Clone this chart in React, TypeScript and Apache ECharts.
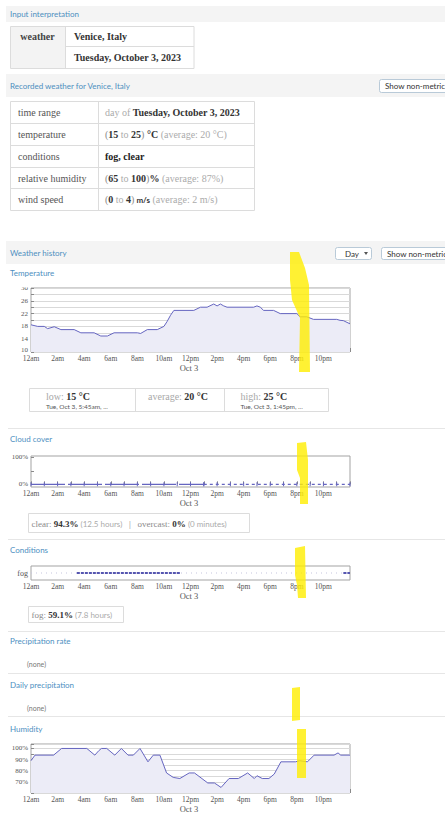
import React, { useEffect, useRef } from 'react';
import * as echarts from 'echarts';

const SERIF = '"Liberation Serif", "Times New Roman", serif';
const SANS = 'Lato, "Open Sans", sans-serif';
const LINE = '#6565c0';
const AREA = '#ececf7';
const HEAD = '#4d8fbf';

// ---------- data ----------
const hourTicks = [0, 2, 4, 6, 8, 10, 12, 14, 16, 18, 20, 22];
const hourLabels = ['12am', '2am', '4am', '6am', '8am', '10am', '12pm', '2pm', '4pm', '6pm', '8pm', '10pm'];

const tempHours = [0, 0.5, 1, 1.25, 1.75, 2.25, 3.25, 3.75, 4.75, 5.25, 5.75, 6.25, 8, 8.25, 8.75, 9.5, 10, 10.25, 10.5, 10.75, 12.25, 12.75, 13.25, 13.75, 14, 14.25, 14.5, 14.75, 16.75, 17, 17.25, 17.5, 18.25, 18.75, 20, 20.25, 20.75, 21.25, 23, 23.25, 23.5, 24];
const tempValues = [18.5, 18, 18, 17.3, 17.9, 17, 17, 16, 16, 15, 15, 16, 16, 15.8, 17, 17, 18, 19.6, 21.5, 23, 23, 24, 24, 25, 24.4, 25, 24.4, 24, 24, 24.4, 24, 23, 23, 22, 22, 21, 21, 20.2, 20.2, 19.9, 19.8, 18.8];
const tempTickLabels = [10, 14, 18, 22, 26, 30];

const cloudHours = [0, 1, 2, 3, 4, 5, 6, 7, 8, 9, 10, 11, 12, 13, 14, 15, 16, 17, 18, 19, 20, 21, 22, 23, 24];
const cloudValues = [0, 0, 0, 0, 0, 0, 0, 0, 0, 0, 0, 0, 0, 0, 0, 0, 0, 0, 0, 0, 0, 0, 0, 0, 0];
const cloudObservedUntil = 13;
const cloudTickLabels = [0, 100];

const conditionCategories = ['fog'];
const fogIntervals = [[3.45, 11.2], [23.5, 24]];

const humHours = [0, 0.3, 1.7, 2.3, 4.2, 4.8, 5.1, 5.3, 5.7, 6.3, 6.8, 7.3, 7.7, 8.2, 8.8, 9.2, 9.7, 10.2, 10.7, 11.2, 11.9, 12.3, 13.3, 13.8, 14.3, 14.9, 15.6, 16.3, 16.8, 17.0, 17.4, 17.9, 18.3, 18.8, 19.9, 20.2, 20.8, 21.3, 22.8, 23.1, 23.3, 24];
const humValues = [89, 94, 94, 100, 100, 94, 98, 100, 100, 94, 100, 94, 94, 100, 88, 94, 94, 78, 74, 73, 78, 78, 69, 69, 65, 73, 73, 78, 73, 75.5, 73, 73, 77, 88, 88, 89, 88, 94, 94, 96, 94, 94];
const humTickLabels = [70, 80, 90, 100];

// ---------- helpers ----------
const hourLabel = (v: number) => {
  const i = hourTicks.indexOf(v);
  return i >= 0 ? hourLabels[i] : '';
};

const xAxisFor = (gridIndex: number, tickLen: number) => ({
  type: 'value',
  gridIndex,
  min: 0,
  max: 24,
  interval: 1,
  axisLine: { show: false },
  axisTick: { show: tickLen > 0, inside: true, length: tickLen, lineStyle: { color: '#8a8a8a', width: 1 } },
  axisLabel: { margin: 2, fontFamily: SERIF, fontSize: 7.5, color: '#555', formatter: hourLabel },
  splitLine: { show: false },
});

const gridBox = (top: number, height: number) => ({
  left: 31,
  top,
  width: 319,
  height,
  show: true,
  borderColor: '#a3a3a3',
  borderWidth: 1,
  backgroundColor: 'transparent',
});

const yLabel = { fontFamily: SERIF, fontSize: 7, color: '#555', margin: 3 };

function buildGraphics() {
  const g: any[] = [];
  const rect = (x: number, y: number, w: number, h: number, fill: string, stroke?: string, r = 0, z = 0) =>
    g.push({ type: 'rect', z, shape: { x, y, width: w, height: h, r }, style: { fill, stroke: stroke || null, lineWidth: stroke ? 1 : 0 } });
  const line = (x1: number, y1: number, x2: number, y2: number, color = '#dedede', z = 1) =>
    g.push({ type: 'line', z, shape: { x1, y1, x2, y2 }, style: { stroke: color, lineWidth: 1 } });
  const text = (x: number, y: number, t: string, font: string, fill: string, align = 'left', rich?: any, z = 5) =>
    g.push({
      type: 'text', z, x, y,
      style: { text: t, font, fill, textAlign: align, align, textVerticalAlign: 'middle', verticalAlign: 'middle', rich },
    });
  const rs = (family: string, size: number, fill: string, weight = 'normal') => ({
    fontFamily: family, fontSize: size, fontWeight: weight, fill, color: fill,
  });

  // header bars
  rect(6, 6, 439, 16, '#f4f4f4');
  rect(6, 74, 439, 23, '#f4f4f4');
  rect(6, 241, 439, 23, '#f4f4f4');
  text(10, 13.5, 'Input interpretation', `8px ${SANS}`, HEAD);
  text(10, 86, 'Recorded weather for Venice, Italy', `8px ${SANS}`, HEAD);
  text(10, 253, 'Weather history', `8px ${SANS}`, HEAD);

  // buttons
  rect(379.5, 79.5, 80, 13, '#ffffff', '#b9cad8', 2, 2);
  text(385, 86, 'Show non-metric', `8px ${SANS}`, '#333');
  rect(335.5, 247.5, 36, 12, '#ffffff', '#b9cad8', 2, 2);
  text(345, 253.5, 'Day', `8px ${SANS}`, '#333');
  g.push({ type: 'polygon', z: 5, shape: { points: [[364, 252], [368, 252], [366, 255]] }, style: { fill: '#555' } });
  rect(381.5, 247.5, 80, 12, '#ffffff', '#b9cad8', 2, 2);
  text(387, 253.5, 'Show non-metric', `8px ${SANS}`, '#333');

  // table 1
  rect(10.5, 26.5, 183.5, 42, '#ffffff', '#dcdcdc', 0, 1);
  rect(11, 27, 54.5, 41, '#f3f3f3', undefined, 0, 1);
  line(65.5, 26.5, 65.5, 68.5, '#dcdcdc', 2);
  line(65.5, 46.5, 194, 46.5, '#dcdcdc', 2);
  text(37.5, 36.5, 'weather', `bold 10px ${SERIF}`, '#444', 'center');
  text(74, 36.5, 'Venice, Italy', `bold 10px ${SERIF}`, '#333');
  text(74, 57.5, 'Tuesday, October 3, 2023', `bold 10px ${SERIF}`, '#333');

  // table 2
  rect(10.5, 101.5, 244, 109, '#ffffff', '#dcdcdc', 0, 1);
  line(98.5, 101.5, 98.5, 210.5, '#dcdcdc', 2);
  [123.5, 145.5, 167.5, 188.5].forEach((y) => line(10.5, y, 254.5, y, '#dcdcdc', 2));
  const rowY = [112.5, 134.5, 156.5, 178, 199.5];
  const leftCol = ['time range', 'temperature', 'conditions', 'relative humidity', 'wind speed'];
  leftCol.forEach((t, i) => text(18, rowY[i], t, `10px ${SERIF}`, '#555'));
  const tr = {
    g: rs(SERIF, 10, '#ababab'),
    p: rs(SERIF, 10, '#8a8a8a'),
    b: rs(SERIF, 10, '#333', 'bold'),
    d: rs(SERIF, 10, '#222', 'bold'),
    s: rs(SANS, 8, '#333', 'bold'),
  };
  text(105, rowY[0], '{g|day of }{b|Tuesday, October 3, 2023}', `10px ${SERIF}`, '#333', 'left', tr);
  text(105, rowY[1], '{p|(}{b|15}{g| to }{b|25}{p|)}{b| °C}{g| (average: 20 °C)}', `10px ${SERIF}`, '#333', 'left', tr);
  text(105, rowY[2], '{d|fog, clear}', `10px ${SERIF}`, '#333', 'left', tr);
  text(105, rowY[3], '{p|(}{b|65}{g| to }{b|100}{p|)}{b|%}{g| (average: 87%)}', `10px ${SERIF}`, '#333', 'left', tr);
  text(105, rowY[4], '{p|(}{b|0}{g| to }{b|4}{p|)}{s| m/s}{g| (average: 2 m/s)}', `10px ${SERIF}`, '#333', 'left', tr);

  // section titles
  const titles: [string, number][] = [
    ['Temperature', 272.5], ['Cloud cover', 438.5], ['Conditions', 550], ['Precipitation rate', 641],
    ['Daily precipitation', 684.5], ['Humidity', 728.5],
  ];
  titles.forEach(([t, y]) => text(10, y, t, `8px ${SANS}`, HEAD));
  text(27, 664, '(none)', `7px ${SANS}`, '#777');
  text(27, 707.5, '(none)', `7px ${SANS}`, '#777');

  // separators
  [428.5, 539.5, 631.5, 673.5, 716.5].forEach((y) => line(8, y, 445, y, '#e6e6e6', 1));

  // date labels under charts
  [367.5, 502.5, 596, 809].forEach((y) => text(189, y, 'Oct 3', `8.5px ${SERIF}`, '#555', 'center'));

  // hide top half of "30" like the reference crop
  rect(10, 279, 20, 8.5, '#ffffff', undefined, 0, 50);

  // summary boxes
  const sr = {
    g: rs(SERIF, 10, '#a8a8a8'),
    b: rs(SERIF, 10, '#333', 'bold'),
    g9: rs(SERIF, 9, '#8a8a8a'),
    b9: rs(SERIF, 9, '#333', 'bold'),
    l: rs(SANS, 8, '#aaa'),
  };
  rect(29.5, 388.5, 299, 23, '#ffffff', '#dcdcdc', 0, 1);
  line(135.5, 388.5, 135.5, 411.5, '#dcdcdc', 2);
  line(224.5, 388.5, 224.5, 411.5, '#dcdcdc', 2);
  text(46, 396, '{g|low: }{b|15 °C}', `10px ${SERIF}`, '#333', 'left', sr);
  text(46, 406.5, 'Tue, Oct 3, 5:45am, ...', `6.5px ${SANS}`, '#555');
  text(148, 396, '{g|average: }{b|20 °C}', `10px ${SERIF}`, '#333', 'left', sr);
  text(240.5, 396, '{g|high: }{b|25 °C}', `10px ${SERIF}`, '#333', 'left', sr);
  text(240.5, 406.5, 'Tue, Oct 3, 1:45pm, ...', `6.5px ${SANS}`, '#555');

  rect(28.5, 513.5, 221, 19, '#ffffff', '#dcdcdc', 0, 1);
  text(31.5, 523.5, '{g9|clear: }{b9|94.3%}{l| (12.5 hours)}{g9|   |   overcast: }{b9|0%}{l| (0 minutes)}', `9px ${SERIF}`, '#333', 'left', sr);

  rect(28.5, 606.5, 95, 16, '#ffffff', '#dcdcdc', 0, 1);
  text(31.5, 614.5, '{g9|fog: }{b9|59.1%}{l| (7.8 hours)}', `9px ${SERIF}`, '#333', 'left', sr);

  // yellow highlighter strokes
  const yellow = (pts: number[][]) =>
    g.push({ type: 'polygon', z: 100, shape: { points: pts }, style: { fill: '#ffee00', opacity: 0.8 } });
  yellow([[290, 252], [299, 252], [305, 268], [309, 285], [310, 372], [299, 372], [300, 318], [292, 300], [290, 280]]);
  yellow([[297, 443], [306, 442], [308, 460], [308, 504], [300, 504], [300, 478], [297, 470]]);
  yellow([[295, 548], [305, 546], [306, 598], [298, 598], [297, 585], [295, 575]]);
  yellow([[292, 688], [300, 687], [300, 720], [292, 721]]);
  yellow([[297, 729], [306, 729], [306, 778], [297, 778]]);

  return g;
}

function buildOption() {
  const tempData = tempHours.map((h, i) => [h, tempValues[i]]);
  const humData = humHours.map((h, i) => [h, humValues[i]]);
  const cloudData = cloudHours.map((h, i) => [h, cloudValues[i]]);
  const cloudSolid = cloudData.filter((d) => d[0] <= cloudObservedUntil);
  const cloudDashed = cloudData.filter((d) => d[0] >= cloudObservedUntil);

  const fogSeries = fogIntervals.map((iv) => ({
    type: 'line',
    xAxisIndex: 2,
    yAxisIndex: 2,
    data: [[iv[0], conditionCategories[0]], [iv[1], conditionCategories[0]]],
    showSymbol: false,
    lineStyle: { color: '#5656b0', width: 2, type: [3, 1] },
    z: 4,
  }));

  return {
    animation: false,
    backgroundColor: '#ffffff',
    grid: [gridBox(288, 64), gridBox(456, 31), gridBox(566, 14), gridBox(744, 49)],
    xAxis: [xAxisFor(0, 4), xAxisFor(1, 3), xAxisFor(2, 0), xAxisFor(3, 4)],
    yAxis: [
      {
        type: 'value', gridIndex: 0, min: 10, max: 30, interval: 2,
        axisLine: { show: false },
        axisTick: { show: true, inside: true, length: 3, lineStyle: { color: '#8a8a8a' } },
        splitLine: { show: true, lineStyle: { color: '#d9d9d9', width: 1 } },
        axisLabel: {
          ...yLabel,
          formatter: (v: number) => (v === tempTickLabels[0] ? `{lo|${v}}` : tempTickLabels.includes(v) ? String(v) : ''),
          rich: { lo: { fontFamily: SERIF, fontSize: 7, color: '#555', padding: [0, 0, 4, 0] } },
        },
      },
      {
        type: 'value', gridIndex: 1, min: -10, max: 105,
        axisLine: { show: false },
        axisTick: { show: true, inside: true, length: 3, customValues: [0, 50, 100], lineStyle: { color: '#8a8a8a' } },
        splitLine: { show: false },
        axisLabel: { ...yLabel, customValues: cloudTickLabels, formatter: (v: number) => `${v}%` },
      },
      {
        type: 'category', gridIndex: 2, data: conditionCategories,
        axisLine: { show: false }, axisTick: { show: false }, splitLine: { show: false },
        axisLabel: { ...yLabel, fontSize: 8 },
      },
      {
        type: 'value', gridIndex: 3, min: 60, max: 104, interval: 5,
        axisLine: { show: false },
        axisTick: { show: true, inside: true, length: 3, lineStyle: { color: '#8a8a8a' } },
        splitLine: { show: true, lineStyle: { color: '#d9d9d9', width: 1 } },
        axisLabel: { ...yLabel, formatter: (v: number) => (humTickLabels.includes(v) ? `${v}%` : '') },
      },
    ],
    series: [
      {
        type: 'line', xAxisIndex: 0, yAxisIndex: 0, data: tempData, showSymbol: false,
        lineStyle: { color: LINE, width: 1 }, areaStyle: { color: AREA, opacity: 1, origin: 'start' }, z: 3,
      },
      {
        type: 'line', xAxisIndex: 1, yAxisIndex: 1, data: cloudSolid, showSymbol: true, symbol: 'rect',
        symbolSize: [1, 4], itemStyle: { color: LINE }, lineStyle: { color: LINE, width: 1.2, type: [34, 3] }, z: 3,
      },
      {
        type: 'line', xAxisIndex: 1, yAxisIndex: 1, data: cloudDashed, showSymbol: true, symbol: 'rect',
        symbolSize: [1, 4], itemStyle: { color: LINE }, lineStyle: { color: LINE, width: 1.2, type: [3, 3] }, z: 3,
      },
      {
        type: 'line', xAxisIndex: 2, yAxisIndex: 2,
        data: [[0, conditionCategories[0]], [24, conditionCategories[0]]],
        showSymbol: false, lineStyle: { color: '#c5c5de', width: 1, type: [1, 4] }, z: 3,
      },
      ...fogSeries,
      {
        type: 'line', xAxisIndex: 3, yAxisIndex: 3, data: humData, showSymbol: false,
        lineStyle: { color: LINE, width: 1 }, areaStyle: { color: AREA, opacity: 1, origin: 'start' }, z: 3,
      },
    ],
    graphic: { elements: buildGraphics() },
  };
}

export default function App() {
  const ref = useRef<HTMLDivElement>(null);
  useEffect(() => {
    if (!ref.current) return;
    const chart = echarts.init(ref.current, null, { renderer: 'svg', width: 445, height: 814 });
    chart.setOption(buildOption() as any);
    return () => chart.dispose();
  }, []);
  return (
    <div
      ref={ref}
      style={{ position: 'fixed', left: 0, top: 0, width: 445, height: 814, background: '#ffffff' }}
    />
  );
}
